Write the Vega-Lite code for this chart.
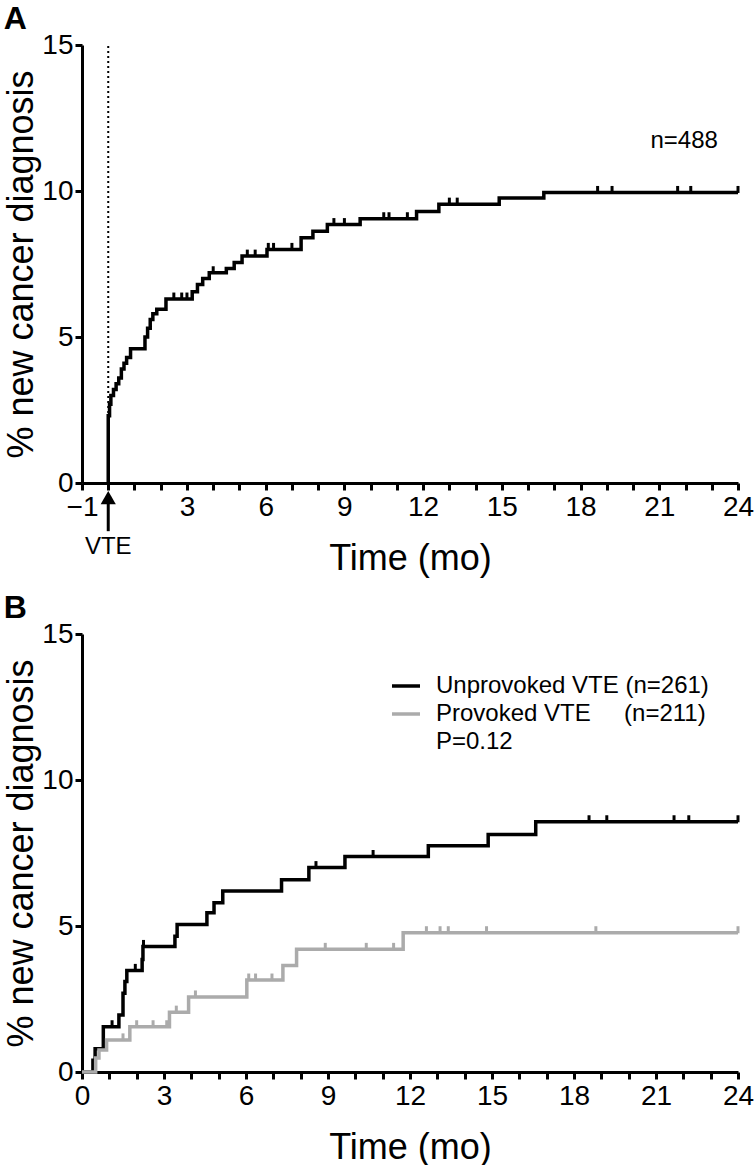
{
  "$schema": "https://vega.github.io/schema/vega-lite/v6.json",
  "padding": {"left": 3, "top": 3, "right": 10, "bottom": 0},
  "config": {
    "font": "Liberation Sans, Arial, Helvetica, sans-serif",
    "view": {"stroke": null},
    "axis": {
      "domainColor": "black", "domainWidth": 3, "tickColor": "black", "tickWidth": 3, "tickSize": 7,
      "labelColor": "black", "labelFontSize": 28, "labelPadding": 2, "labelFlush": false,
      "titleFontSize": 36, "titleFontWeight": "normal", "titleColor": "black", "grid": false
    },
    "axisX": {"titlePadding": 20, "labelPadding": 3},
    "axisY": {"titlePadding": 1},
    "title": {"fontSize": 32, "fontWeight": "bold", "anchor": "start", "frame": "bounds", "color": "black", "offset": -5},
    "concat": {"spacing": 16},
    "legend": {
      "orient": "none", "legendX": 308, "legendY": 36, "title": null, "symbolType": "stroke",
      "symbolStrokeWidth": 3.5, "symbolSize": 784, "labelFontSize": 24, "labelColor": "black",
      "labelOffset": 14, "rowPadding": 0, "padding": 0, "labelLimit": 500
    }
  },
  "resolve": {"legend": {"color": "independent"}, "scale": {"color": "independent"}},
  "datasets": {
    "kmA": [
      {"i": 0, "t": 0, "v": 0}, {"i": 1, "t": 0, "v": 2.3}, {"i": 2, "t": 0.05, "v": 2.7}, {"i": 3, "t": 0.1, "v": 3.0},
      {"i": 4, "t": 0.2, "v": 3.2}, {"i": 5, "t": 0.3, "v": 3.4}, {"i": 6, "t": 0.4, "v": 3.6}, {"i": 7, "t": 0.5, "v": 3.9},
      {"i": 8, "t": 0.6, "v": 4.1}, {"i": 9, "t": 0.7, "v": 4.3}, {"i": 10, "t": 0.85, "v": 4.6}, {"i": 11, "t": 1.4, "v": 5.0},
      {"i": 12, "t": 1.5, "v": 5.3}, {"i": 13, "t": 1.6, "v": 5.6}, {"i": 14, "t": 1.7, "v": 5.8}, {"i": 15, "t": 1.85, "v": 5.95},
      {"i": 16, "t": 2.2, "v": 6.3}, {"i": 17, "t": 3.2, "v": 6.55}, {"i": 18, "t": 3.4, "v": 6.8}, {"i": 19, "t": 3.6, "v": 7.0},
      {"i": 20, "t": 3.85, "v": 7.2}, {"i": 21, "t": 4.5, "v": 7.35}, {"i": 22, "t": 4.8, "v": 7.55}, {"i": 23, "t": 5.1, "v": 7.77},
      {"i": 24, "t": 6.05, "v": 8.0}, {"i": 25, "t": 7.35, "v": 8.4}, {"i": 26, "t": 7.8, "v": 8.62}, {"i": 27, "t": 8.35, "v": 8.85},
      {"i": 28, "t": 9.6, "v": 9.05}, {"i": 29, "t": 11.75, "v": 9.3}, {"i": 30, "t": 12.6, "v": 9.55}, {"i": 31, "t": 14.9, "v": 9.76},
      {"i": 32, "t": 16.6, "v": 9.95}, {"i": 33, "t": 24, "v": 9.95}
    ],
    "cenA": [
      {"t": 2.5, "v": 6.3}, {"t": 2.8, "v": 6.3}, {"t": 3.0, "v": 6.3}, {"t": 4.0, "v": 7.2}, {"t": 5.3, "v": 7.77},
      {"t": 5.6, "v": 7.77}, {"t": 6.1, "v": 8.0}, {"t": 6.3, "v": 8.0}, {"t": 7.0, "v": 8.0}, {"t": 8.6, "v": 8.85},
      {"t": 9.0, "v": 8.85}, {"t": 10.5, "v": 9.05}, {"t": 10.7, "v": 9.05}, {"t": 11.4, "v": 9.05}, {"t": 13.0, "v": 9.55},
      {"t": 13.3, "v": 9.55}, {"t": 18.65, "v": 9.95}, {"t": 19.2, "v": 9.95}, {"t": 21.7, "v": 9.95}, {"t": 22.2, "v": 9.95},
      {"t": 24, "v": 9.95}
    ],
    "kmB": [
      {"group": "Unprovoked VTE (n=261)", "i": 0, "t": 0, "v": 0},
      {"group": "Unprovoked VTE (n=261)", "i": 1, "t": 0.4, "v": 0.4},
      {"group": "Unprovoked VTE (n=261)", "i": 2, "t": 0.48, "v": 0.8},
      {"group": "Unprovoked VTE (n=261)", "i": 3, "t": 0.78, "v": 1.55},
      {"group": "Unprovoked VTE (n=261)", "i": 4, "t": 1.35, "v": 1.95},
      {"group": "Unprovoked VTE (n=261)", "i": 5, "t": 1.5, "v": 2.7},
      {"group": "Unprovoked VTE (n=261)", "i": 6, "t": 1.57, "v": 3.1},
      {"group": "Unprovoked VTE (n=261)", "i": 7, "t": 1.64, "v": 3.48},
      {"group": "Unprovoked VTE (n=261)", "i": 8, "t": 2.2, "v": 3.85},
      {"group": "Unprovoked VTE (n=261)", "i": 9, "t": 2.23, "v": 4.3},
      {"group": "Unprovoked VTE (n=261)", "i": 10, "t": 3.4, "v": 4.65},
      {"group": "Unprovoked VTE (n=261)", "i": 11, "t": 3.48, "v": 5.05},
      {"group": "Unprovoked VTE (n=261)", "i": 12, "t": 4.57, "v": 5.45},
      {"group": "Unprovoked VTE (n=261)", "i": 13, "t": 4.83, "v": 5.8},
      {"group": "Unprovoked VTE (n=261)", "i": 14, "t": 5.15, "v": 6.2},
      {"group": "Unprovoked VTE (n=261)", "i": 15, "t": 7.3, "v": 6.58},
      {"group": "Unprovoked VTE (n=261)", "i": 16, "t": 8.3, "v": 7.0},
      {"group": "Unprovoked VTE (n=261)", "i": 17, "t": 9.62, "v": 7.38},
      {"group": "Unprovoked VTE (n=261)", "i": 18, "t": 12.67, "v": 7.75},
      {"group": "Unprovoked VTE (n=261)", "i": 19, "t": 14.86, "v": 8.13},
      {"group": "Unprovoked VTE (n=261)", "i": 20, "t": 16.6, "v": 8.57},
      {"group": "Unprovoked VTE (n=261)", "i": 21, "t": 24, "v": 8.57},
      {"group": "Provoked VTE\u00a0\u00a0\u00a0\u00a0\u00a0(n=211)", "i": 0, "t": 0, "v": 0},
      {"group": "Provoked VTE\u00a0\u00a0\u00a0\u00a0\u00a0(n=211)", "i": 1, "t": 0.5, "v": 0.48},
      {"group": "Provoked VTE\u00a0\u00a0\u00a0\u00a0\u00a0(n=211)", "i": 2, "t": 0.62, "v": 0.75},
      {"group": "Provoked VTE\u00a0\u00a0\u00a0\u00a0\u00a0(n=211)", "i": 3, "t": 0.9, "v": 1.1},
      {"group": "Provoked VTE\u00a0\u00a0\u00a0\u00a0\u00a0(n=211)", "i": 4, "t": 1.75, "v": 1.55},
      {"group": "Provoked VTE\u00a0\u00a0\u00a0\u00a0\u00a0(n=211)", "i": 5, "t": 3.2, "v": 2.05},
      {"group": "Provoked VTE\u00a0\u00a0\u00a0\u00a0\u00a0(n=211)", "i": 6, "t": 3.9, "v": 2.57},
      {"group": "Provoked VTE\u00a0\u00a0\u00a0\u00a0\u00a0(n=211)", "i": 7, "t": 6.03, "v": 3.15},
      {"group": "Provoked VTE\u00a0\u00a0\u00a0\u00a0\u00a0(n=211)", "i": 8, "t": 7.35, "v": 3.65},
      {"group": "Provoked VTE\u00a0\u00a0\u00a0\u00a0\u00a0(n=211)", "i": 9, "t": 7.85, "v": 4.2},
      {"group": "Provoked VTE\u00a0\u00a0\u00a0\u00a0\u00a0(n=211)", "i": 10, "t": 11.75, "v": 4.77},
      {"group": "Provoked VTE\u00a0\u00a0\u00a0\u00a0\u00a0(n=211)", "i": 11, "t": 24, "v": 4.77}
    ],
    "cenB": [
      {"group": "Unprovoked VTE (n=261)", "t": 1.1, "v": 1.55},
      {"group": "Unprovoked VTE (n=261)", "t": 1.95, "v": 3.48},
      {"group": "Unprovoked VTE (n=261)", "t": 2.25, "v": 4.3},
      {"group": "Unprovoked VTE (n=261)", "t": 8.56, "v": 7.0},
      {"group": "Unprovoked VTE (n=261)", "t": 10.65, "v": 7.38},
      {"group": "Unprovoked VTE (n=261)", "t": 18.55, "v": 8.57},
      {"group": "Unprovoked VTE (n=261)", "t": 19.2, "v": 8.57},
      {"group": "Unprovoked VTE (n=261)", "t": 21.66, "v": 8.57},
      {"group": "Unprovoked VTE (n=261)", "t": 22.2, "v": 8.57},
      {"group": "Unprovoked VTE (n=261)", "t": 24, "v": 8.57},
      {"group": "Provoked VTE\u00a0\u00a0\u00a0\u00a0\u00a0(n=211)", "t": 1.5, "v": 1.1},
      {"group": "Provoked VTE\u00a0\u00a0\u00a0\u00a0\u00a0(n=211)", "t": 2.0, "v": 1.55},
      {"group": "Provoked VTE\u00a0\u00a0\u00a0\u00a0\u00a0(n=211)", "t": 2.6, "v": 1.55},
      {"group": "Provoked VTE\u00a0\u00a0\u00a0\u00a0\u00a0(n=211)", "t": 3.1, "v": 1.55},
      {"group": "Provoked VTE\u00a0\u00a0\u00a0\u00a0\u00a0(n=211)", "t": 3.45, "v": 2.05},
      {"group": "Provoked VTE\u00a0\u00a0\u00a0\u00a0\u00a0(n=211)", "t": 4.15, "v": 2.57},
      {"group": "Provoked VTE\u00a0\u00a0\u00a0\u00a0\u00a0(n=211)", "t": 6.1, "v": 3.15},
      {"group": "Provoked VTE\u00a0\u00a0\u00a0\u00a0\u00a0(n=211)", "t": 6.35, "v": 3.15},
      {"group": "Provoked VTE\u00a0\u00a0\u00a0\u00a0\u00a0(n=211)", "t": 6.95, "v": 3.15},
      {"group": "Provoked VTE\u00a0\u00a0\u00a0\u00a0\u00a0(n=211)", "t": 8.9, "v": 4.2},
      {"group": "Provoked VTE\u00a0\u00a0\u00a0\u00a0\u00a0(n=211)", "t": 10.4, "v": 4.2},
      {"group": "Provoked VTE\u00a0\u00a0\u00a0\u00a0\u00a0(n=211)", "t": 11.4, "v": 4.2},
      {"group": "Provoked VTE\u00a0\u00a0\u00a0\u00a0\u00a0(n=211)", "t": 12.6, "v": 4.77},
      {"group": "Provoked VTE\u00a0\u00a0\u00a0\u00a0\u00a0(n=211)", "t": 13.1, "v": 4.77},
      {"group": "Provoked VTE\u00a0\u00a0\u00a0\u00a0\u00a0(n=211)", "t": 13.4, "v": 4.77},
      {"group": "Provoked VTE\u00a0\u00a0\u00a0\u00a0\u00a0(n=211)", "t": 14.8, "v": 4.77},
      {"group": "Provoked VTE\u00a0\u00a0\u00a0\u00a0\u00a0(n=211)", "t": 18.8, "v": 4.77},
      {"group": "Provoked VTE\u00a0\u00a0\u00a0\u00a0\u00a0(n=211)", "t": 24, "v": 4.77}
    ]
  },
  "vconcat": [
    {
      "title": {"text": "A"},
      "width": 656,
      "height": 438,
      "encoding": {
        "x": {
          "field": "t", "type": "quantitative", "title": "Time (mo)",
          "scale": {"domain": [-1, 24], "nice": false, "zero": false},
          "axis": {
            "values": [-1,0,1,2,3,4,5,6,7,8,9,10,11,12,13,14,15,16,17,18,19,20,21,22,23,24],
            "labelExpr": "datum.value == -1 || (datum.value != 0 && datum.value % 3 == 0) ? datum.label : ''"
          }
        },
        "y": {
          "field": "v", "type": "quantitative", "title": "% new cancer diagnosis",
          "scale": {"domain": [0, 15], "nice": false},
          "axis": {"values": [0, 5, 10, 15]}
        }
      },
      "layer": [
        {
          "data": {"values": [{"t": 0, "v": 0, "v2": 15}]},
          "mark": {"type": "rule", "strokeDash": [2, 3], "strokeWidth": 2, "color": "black"},
          "encoding": {"y2": {"field": "v2"}}
        },
        {
          "data": {"name": "kmA"},
          "mark": {"type": "line", "interpolate": "step-after", "strokeWidth": 3.5, "color": "black"},
          "encoding": {"order": {"field": "i", "type": "quantitative"}}
        },
        {
          "data": {"name": "cenA"},
          "mark": {"type": "tick", "orient": "vertical", "size": 7, "thickness": 3, "yOffset": -3, "color": "black", "opacity": 1}
        },
        {
          "data": {"values": [{"t": 0, "v": -1.65, "v2": -0.6}]},
          "mark": {"type": "rule", "strokeWidth": 3, "color": "black"},
          "encoding": {"y2": {"field": "v2"}}
        },
        {
          "data": {"values": [{"t": 0, "v": -0.5}]},
          "mark": {"type": "point", "shape": "triangle-up", "size": 230, "filled": true, "color": "black", "opacity": 1}
        },
        {
          "data": {"values": [{"t": 0, "v": -2.2, "label": "VTE"}, {"t": 21.95, "v": 11.7, "label": "n=488"}]},
          "mark": {"type": "text", "fontSize": 24, "align": "center", "baseline": "middle", "color": "black"},
          "encoding": {"text": {"field": "label"}}
        }
      ]
    },
    {
      "title": {"text": "B"},
      "width": 656,
      "height": 438,
      "encoding": {
        "x": {
          "field": "t", "type": "quantitative", "title": "Time (mo)",
          "scale": {"domain": [0, 24], "nice": false, "zero": false},
          "axis": {
            "values": [0,1,2,3,4,5,6,7,8,9,10,11,12,13,14,15,16,17,18,19,20,21,22,23,24],
            "labelExpr": "datum.value % 3 == 0 ? datum.label : ''"
          }
        },
        "y": {
          "field": "v", "type": "quantitative", "title": "% new cancer diagnosis",
          "scale": {"domain": [0, 15], "nice": false},
          "axis": {"values": [0, 5, 10, 15]}
        }
      },
      "layer": [
        {
          "data": {"name": "kmB"},
          "mark": {"type": "line", "interpolate": "step-after", "strokeWidth": 3.5},
          "encoding": {
            "order": {"field": "i", "type": "quantitative"},
            "color": {
              "field": "group", "type": "nominal",
              "scale": {"domain": ["Unprovoked VTE (n=261)", "Provoked VTE\u00a0\u00a0\u00a0\u00a0\u00a0(n=211)"], "range": ["black", "#ababab"]},
              "legend": {"symbolType": "stroke"}
            }
          }
        },
        {
          "data": {"name": "cenB"},
          "mark": {"type": "tick", "orient": "vertical", "size": 7, "thickness": 3, "yOffset": -3, "opacity": 1},
          "encoding": {
            "color": {"field": "group", "type": "nominal"}
          }
        },
        {
          "data": {"values": [{"t": 12.95, "v": 11.3, "label": "P=0.12"}]},
          "mark": {"type": "text", "fontSize": 24, "align": "left", "baseline": "middle", "color": "black"},
          "encoding": {"text": {"field": "label"}}
        }
      ]
    }
  ]
}
